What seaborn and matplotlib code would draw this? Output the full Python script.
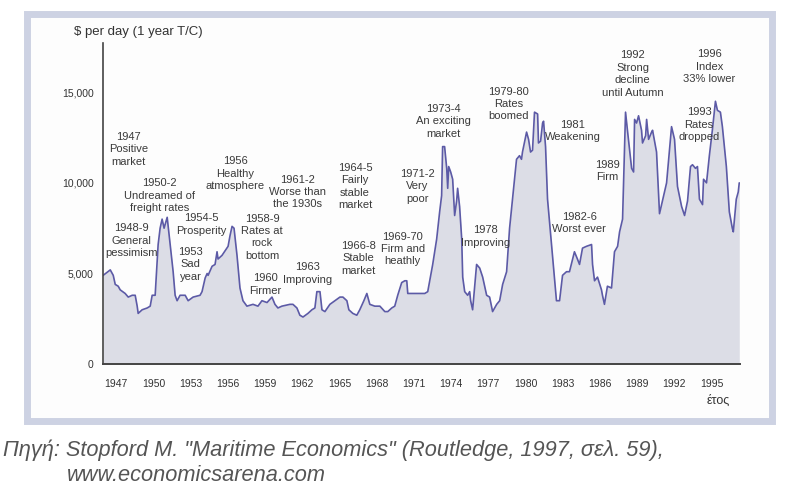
import pandas as pd
import seaborn as sns
import matplotlib.pyplot as plt
from matplotlib.patches import Rectangle

# dry cargo 1 year time charter rate, $ per day
years = [1945.95, 1946.52, 1946.76, 1946.92, 1947.16, 1947.32, 1947.72, 1947.97, 1948.29, 1948.53,
         1948.69, 1948.77, 1949.09, 1949.50, 1949.74, 1949.90, 1950.14, 1950.38, 1950.54, 1950.70,
         1950.86, 1951.11, 1951.35, 1951.59, 1951.75, 1951.91, 1952.15, 1952.56, 1952.80, 1953.20,
         1953.76, 1953.92, 1954.17, 1954.33, 1954.41, 1954.73, 1954.97, 1955.13, 1955.21, 1955.53,
         1956.02, 1956.18, 1956.34, 1956.50, 1956.74, 1956.98, 1957.22, 1957.54, 1958.03, 1958.43,
         1958.75, 1959.16, 1959.56, 1959.80, 1960.04, 1960.36, 1961.01, 1961.25, 1961.57, 1961.81,
         1962.06, 1962.46, 1962.78, 1963.02, 1963.18, 1963.43, 1963.59, 1963.83, 1964.23, 1964.63,
         1965.04, 1965.28, 1965.60, 1965.76, 1966.08, 1966.40, 1966.64, 1966.97, 1967.21, 1967.45,
         1967.85, 1968.26, 1968.66, 1968.90, 1969.22, 1969.46, 1969.70, 1970.02, 1970.27, 1970.43,
         1970.51, 1971.23, 1971.88, 1972.12, 1972.52, 1972.84, 1973.08, 1973.24, 1973.32, 1973.48,
         1973.65, 1973.73, 1973.81, 1973.97, 1974.13, 1974.29, 1974.45, 1974.53, 1974.69, 1974.86,
         1974.94, 1975.10, 1975.34, 1975.50, 1975.58, 1975.74, 1976.06, 1976.31, 1976.55, 1976.87,
         1977.11, 1977.35, 1977.68, 1977.92, 1978.16, 1978.48, 1978.72, 1979.12, 1979.28, 1979.52,
         1979.68, 1979.76, 1980.09, 1980.25, 1980.41, 1980.57, 1980.73, 1980.98, 1981.05, 1981.22,
         1981.38, 1981.46, 1981.62, 1981.78, 1982.10, 1982.18, 1982.50, 1982.75, 1982.99, 1983.31,
         1983.55, 1983.95, 1984.19, 1984.36, 1984.60, 1984.92, 1985.33, 1985.41, 1985.57, 1985.81,
         1986.13, 1986.21, 1986.37, 1986.61, 1986.94, 1987.18, 1987.43, 1987.59, 1987.83, 1988.07,
         1988.24, 1988.56, 1988.72, 1988.80, 1988.96, 1989.12, 1989.36, 1989.44, 1989.69, 1989.77,
         1989.93, 1990.17, 1990.25, 1990.57, 1990.81, 1991.38, 1991.78, 1992.02, 1992.26, 1992.59,
         1992.83, 1993.07, 1993.31, 1993.47, 1993.71, 1993.87, 1994.03, 1994.28, 1994.36, 1994.60,
         1994.83, 1995.07, 1995.32, 1995.48, 1995.72, 1995.88, 1996.20, 1996.44, 1996.68, 1996.76,
         1997.00, 1997.16, 1997.24]
rates = [4900, 5200, 4900, 4400, 4300, 4100, 3900, 3700, 3800, 3800,
         3200, 2800, 3000, 3100, 3200, 3800, 3800, 6600, 7500, 8000,
         7500, 8100, 6600, 5100, 3800, 3500, 3800, 3800, 3500, 3700,
         3800, 4000, 4750, 5000, 4900, 5400, 5500, 6200, 5800, 6000,
         6500, 7100, 7600, 7500, 6000, 4200, 3500, 3200, 3300, 3200,
         3500, 3400, 3700, 3300, 3100, 3200, 3300, 3300, 3100, 2700,
         2600, 2800, 3000, 3100, 4000, 4000, 3000, 2900, 3300, 3500,
         3700, 3700, 3500, 3000, 2800, 2700, 3000, 3500, 3900, 3300,
         3200, 3200, 2900, 2900, 3100, 3200, 3800, 4500, 4600, 4600,
         3900, 3900, 3900, 4000, 5500, 6900, 8400, 9300, 12000, 12000,
         10800, 9700, 10900, 10600, 10200, 8200, 9000, 9700, 8700, 6900,
         4800, 4000, 3800, 4000, 3500, 3000, 5500, 5300, 4800, 3800,
         3700, 2900, 3300, 3500, 4400, 5100, 7500, 10200, 11300, 11500,
         11300, 11700, 12800, 12400, 11700, 11800, 13900, 13800, 12200, 12300,
         13300, 13400, 12000, 9100, 6600, 6000, 3500, 3500, 4900, 5100,
         5100, 6200, 5800, 5500, 6400, 6500, 6600, 5500, 4600, 4800,
         4100, 3800, 3300, 4300, 4200, 6200, 6500, 7300, 8000, 13900,
         12800, 10800, 10600, 13500, 13300, 13700, 12900, 12200, 12600, 13500,
         12400, 12800, 12900, 11700, 8300, 10000, 13100, 12400, 9800, 8700,
         8200, 9000, 10900, 11000, 10800, 10900, 9100, 8800, 10200, 10000,
         11500, 12900, 14500, 14000, 13900, 13100, 10900, 8400, 7500, 7300,
         9100, 9500, 10000]

tick_years = [1947, 1950, 1953, 1956, 1959, 1962, 1965, 1968, 1971, 1974,
              1977, 1980, 1983, 1986, 1989, 1992, 1995]
y_ticks = [0, 5000, 10000, 15000]
y_tick_labels = ['0', '5,000', '10,000', '15,000']

# annotations: (year, value, text)
notes = [
    (1948.0, 11850, '1947\nPositive\nmarket'),
    (1948.2, 6800, '1948-9\nGeneral\npessimism'),
    (1950.5, 9300, '1950-2\nUndreamed of\nfreight rates'),
    (1953.0, 5500, '1953\nSad\nyear'),
    (1953.85, 7700, '1954-5\nProsperity'),
    (1956.6, 10500, '1956\nHealthy\natmosphere'),
    (1958.75, 7000, '1958-9\nRates at\nrock\nbottom'),
    (1959.0, 4400, '1960\nFirmer'),
    (1961.65, 9500, '1961-2\nWorse than\nthe 1930s'),
    (1962.4, 5000, '1963\nImproving'),
    (1966.25, 9800, '1964-5\nFairly\nstable\nmarket'),
    (1966.5, 5850, '1966-8\nStable\nmarket'),
    (1970.1, 6350, '1969-70\nFirm and\nheathly'),
    (1971.3, 9800, '1971-2\nVery\npoor'),
    (1973.4, 13400, '1973-4\nAn exciting\nmarket'),
    (1976.8, 7050, '1978\nImproving'),
    (1978.65, 14350, '1979-80\nRates\nboomed'),
    (1983.8, 12850, '1981\nWeakening'),
    (1984.35, 7800, '1982-6\nWorst ever'),
    (1986.6, 10650, '1989\nFirm'),
    (1988.65, 16000, '1992\nStrong\ndecline\nuntil Autumn'),
    (1994.0, 13200, '1993\nRates\ndropped'),
    (1994.85, 16400, '1996\nIndex\n33% lower'),
]

df = pd.DataFrame({'year': years, 'rate': rates})

sns.set_style('white')
plt.rcParams['font.family'] = ['Liberation Sans', 'DejaVu Sans']

fig = plt.figure(figsize=(8, 5.03), dpi=100)
fig.patch.set_facecolor('white')

# light frame around the chart, kept behind the axes
frame = fig.add_axes([0, 0, 1, 1], zorder=-5)
frame.set_axis_off()
frame.add_patch(Rectangle((0.034, 0.164), 0.931, 0.809, transform=frame.transAxes,
                          facecolor='#fdfdfd', edgecolor='#cdd2e3', linewidth=5))

ax = fig.add_axes([0.129, 0.276, 0.796, 0.638])
ax.set_facecolor('none')

ax.fill_between(df.year, df.rate, 0, color='#dcdde6', linewidth=0)
sns.lineplot(data=df, x='year', y='rate', ax=ax, color='#5c5aa6', linewidth=1.2)

for x, y, txt in notes:
    ax.text(x, y, txt, ha='center', va='center', fontsize=8, color='#3a3a3a', linespacing=1.3)

ax.set_xlim(1945.95, 1997.3)
ax.set_ylim(0, 17700)
ax.set_xticks(tick_years)
ax.set_xticklabels([str(t) for t in tick_years], fontsize=7.5, color='#333333')
ax.set_yticks(y_ticks)
ax.set_yticklabels(y_tick_labels, fontsize=7.5, color='#333333')
ax.tick_params(axis='y', length=0, pad=7)
ax.tick_params(axis='x', length=0, pad=11)

for s in ['top', 'right']:
    ax.spines[s].set_visible(False)
ax.spines['left'].set_color('#444444')
ax.spines['bottom'].set_color('#444444')
ax.spines['left'].set_linewidth(1.2)
ax.spines['bottom'].set_linewidth(1.4)

ax.set_xlabel('')
ax.set_ylabel('')
fig.text(0.092, 0.937, '$ per day (1 year T/C)', fontsize=9.5, color='#333333', va='center')
fig.text(0.912, 0.203, 'έτος', fontsize=9, color='#333333', ha='right', va='center')

fig.text(0.004, 0.105, 'Πηγή: Stopford M. "Maritime Economics" (Routledge, 1997, σελ. 59),',
         fontsize=15.7, style='italic', color='#555555', va='center')
fig.text(0.084, 0.054, 'www.economicsarena.com',
         fontsize=15.7, style='italic', color='#555555', va='center')

fig.savefig('out.png', dpi=100)
